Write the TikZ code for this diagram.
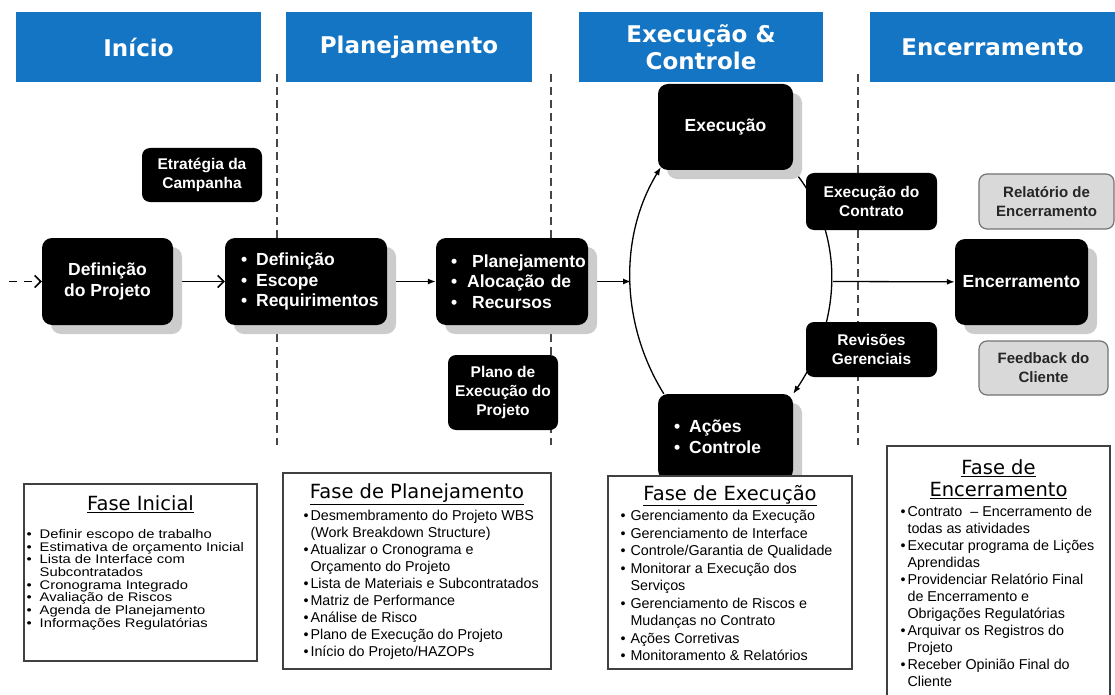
\documentclass[tikz,border=0pt]{standalone}
\usepackage{fontspec}
\setmainfont{Liberation Sans}
\newfontfamily\hdfont{DejaVu Sans}
\newfontfamily\sqfont{Liberation Sans}[FakeStretch=1.18]
\usetikzlibrary{positioning,shadows,arrows.meta,backgrounds}
\definecolor{hdblue}{RGB}{20,117,196}
\definecolor{sepgray}{RGB}{70,70,70}
\hyphenpenalty=10000
\newcommand{\blist}[2]{\begin{tabular}{@{}l@{\hspace{#1}}l@{}}#2\end{tabular}}
\newcommand{\bline}[2]{\mbox{\textbullet\hspace{#1}#2}}

\begin{document}
\begin{tikzpicture}[x=1pt,y=-1pt]

\tikzset{
  header/.style={fill=hdblue, text=white, inner sep=0pt, align=center,
    font=\hdfont\bfseries\fontsize{23}{27}\selectfont},
  blkbox/.style={fill=black, text=white, rounded corners=10pt, inner sep=0pt, align=center,
    font=\bfseries\fontsize{17.5}{20.5}\selectfont},
  smallbox/.style={blkbox, rounded corners=8pt, font=\bfseries\fontsize{15.5}{19}\selectfont},
  boxshadow/.style={drop shadow={shadow xshift=9pt, shadow yshift=-9pt, fill=black!20, opacity=1}},
  graybox/.style={fill=black!15, draw=black!55, line width=1.2pt, rounded corners=8pt, inner sep=0pt,
    text=black!85, align=center, font=\bfseries\fontsize{15}{19}\selectfont},
  phasebox/.style={draw=black!75, line width=1.3pt, fill=white, inner sep=0pt},
  phasehead/.style={inner sep=0pt, anchor=base, font=\hdfont\fontsize{19.5}{22}\selectfont},
  phaselist/.style={inner sep=0pt, anchor=north west, font=\fontsize{14.3}{17}\selectfont},
  sepline/.style={draw=sepgray, line width=2pt, dash pattern=on 8pt off 5pt},
  flow/.style={line width=1.3pt, -{Latex[length=8pt,width=6pt]}},
  openflow/.style={line width=1.5pt, -{Straight Barb[length=6pt,width=12pt]}},
}

\useasboundingbox (0,0) rectangle (1115,695);
\clip (0,0) rectangle (1115,695);

\node[header, minimum width=245pt, minimum height=70pt] (hdIni) at (138.5,47) {Início};
\node[header, minimum width=246pt, minimum height=70pt] (hdPlan) at (409,47) {Planejamento};
\node[header, minimum width=244pt, minimum height=70pt] (hdExec) at (701,47) {Execução \&\\Controle};
\node[header, minimum width=245pt, minimum height=70pt] (hdEnc) at (992.5,47) {Encerramento};

\foreach \x in {277,551,858}
  \draw[sepline] (\x,74) -- (\x,445);

\node[blkbox, boxshadow, minimum width=131pt, minimum height=87pt] (defProj) at (107.5,281.5) {Definição\\do Projeto};
\node[smallbox, minimum width=120pt, minimum height=54pt] (estrat) at (202,175) {Etratégia da\\Campanha};
\node[blkbox, boxshadow, align=left, text width=130pt, inner xsep=16pt, minimum height=87pt] (defEsc) at (306,281.5)
  {\bline{9pt}{Definição}\\\bline{9pt}{Escope}\\\bline{9pt}{Requirimentos}};
\node[blkbox, boxshadow, align=left, text width=122pt, inner xsep=15pt, minimum height=87pt] (planej) at (512,281.5)
  {\bline{15pt}{Planejamento}\\\bline{10pt}{Alocação de}\\\bline{15pt}{Recursos}};
\node[smallbox, minimum width=110pt, minimum height=75pt] (plano) at (503,392.5) {Plano de\\Execução do\\Projeto};

\node[blkbox, boxshadow, minimum width=135pt, minimum height=86pt] (exec) at (725.5,127) {Execução};
\node[blkbox, boxshadow, align=left, text width=103pt, inner xsep=16pt, minimum height=86pt,
  font=\bfseries\fontsize{17.5}{21}\selectfont] (acoes) at (725.5,437)
  {\bline{9pt}{Ações}\\\bline{9pt}{Controle}};
\node[smallbox, minimum width=131pt, minimum height=57pt] (contrato) at (871.5,201.5) {Execução do\\Contrato};
\node[smallbox, minimum width=131pt, minimum height=55pt] (revis) at (871.5,349.5) {Revisões\\Gerenciais};

\node[blkbox, boxshadow, minimum width=133pt, minimum height=86pt] (encerr) at (1021.5,282) {Encerramento};
\node[graybox, minimum width=135pt, minimum height=55pt] (relat) at (1046.5,201.5) {Relatório de\\Encerramento};
\node[graybox, minimum width=129pt, minimum height=54pt] (feedb) at (1043.5,368) {Feedback do\\Cliente};

\coordinate (entry) at (9,281.5);
\coordinate (arcL) at (631,281.5);
\coordinate (arcR) at (833,281.5);

\begin{pgfonlayer}{background}
\draw[openflow, dash pattern=on 8pt off 7pt] (entry) -- (defProj);
\draw[openflow] (defProj) -- (defEsc);
\draw[flow] (defEsc) -- (planej);
\draw[flow] (planej) -- (arcL);
\draw[flow] ([xshift=6pt]acoes.north west) .. controls (620.5,324) and (618.6,236.7) .. ([xshift=3pt,yshift=3pt]exec.south west);
\draw[flow] (exec.south east) .. controls (848,235) and (840,325) .. (acoes.north east);
\draw[flow] (arcR) -- (encerr);
\end{pgfonlayer}

\node[phasebox, minimum width=233pt, minimum height=177pt] (fIni) at (140.5,572.5) {};
\node[phasehead] (fIniH) at ([yshift=-27pt]fIni.north) {\underline{Fase Inicial}};
\node[phaselist, font=\sqfont\fontsize{12.5}{12}\selectfont] (fIniL) at ([xshift=3pt,yshift=-46pt]fIni.north west)
  {\blist{8pt}{
  \textbullet & Definir escopo de trabalho\\
  \textbullet & Estimativa de orçamento Inicial\\
  \textbullet & Lista de Interface com\\
   & Subcontratados\\
  \textbullet & Cronograma Integrado\\
  \textbullet & Avaliação de Riscos\\
  \textbullet & Agenda de Planejamento\\
  \textbullet & Informações Regulatórias}};

\node[phasebox, minimum width=268pt, minimum height=196pt] (fPlan) at (417,571) {};
\node[phasehead] (fPlanH) at ([yshift=-26pt]fPlan.north) {\underline{Fase de Planejamento}};
\node[phaselist] (fPlanL) at ([xshift=21pt,yshift=-36pt]fPlan.north west)
  {\blist{2pt}{
  \textbullet & Desmembramento do Projeto WBS\\
   & (Work Breakdown Structure)\\
  \textbullet & Atualizar o Cronograma e\\
   & Orçamento do Projeto\\
  \textbullet & Lista de Materiais e Subcontratados\\
  \textbullet & Matriz de Performance\\
  \textbullet & Análise de Risco\\
  \textbullet & Plano de Execução do Projeto\\
  \textbullet & Início do Projeto/HAZOPs}};

\node[phasebox, minimum width=244pt, minimum height=193pt] (fExec) at (730,572.5) {};
\node[phasehead] (fExecH) at ([yshift=-25pt]fExec.north) {\underline{Fase de Execução}};
\node[phaselist, font=\fontsize{14.3}{17.5}\selectfont] (fExecL) at ([xshift=13pt,yshift=-33pt]fExec.north west)
  {\blist{5pt}{
  \textbullet & Gerenciamento da Execução\\
  \textbullet & Gerenciamento de Interface\\
  \textbullet & Controle/Garantia de Qualidade\\
  \textbullet & Monitorar a Execução dos\\
   & Serviços\\
  \textbullet & Gerenciamento de Riscos e\\
   & Mudanças no Contrato\\
  \textbullet & Ações Corretivas\\
  \textbullet & Monitoramento \& Relatórios}};

\node[phasebox, minimum width=223pt, minimum height=274pt] (fEnc) at (998.5,583) {};
\node[phasehead] (fEncH) at ([yshift=-29pt]fEnc.north) {\underline{Fase de}};
\node[phasehead] (fEncH2) at ([yshift=-22pt]fEncH.base) {\underline{Encerramento}};
\node[phaselist] (fEncL) at ([xshift=14pt,yshift=-59pt]fEnc.north west)
  {\blist{2pt}{
  \textbullet & Contrato\ \ -- Encerramento de\\
   & todas as atividades\\
  \textbullet & Executar programa de Lições\\
   & Aprendidas\\
  \textbullet & Providenciar Relatório Final\\
   & de Encerramento e\\
   & Obrigações Regulatórias\\
  \textbullet & Arquivar os Registros do\\
   & Projeto\\
  \textbullet & Receber Opinião Final do\\
   & Cliente}};

\end{tikzpicture}
\end{document}
